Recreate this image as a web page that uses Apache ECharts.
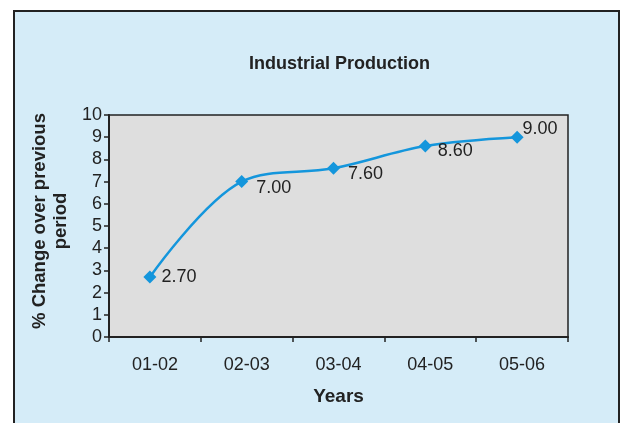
<!DOCTYPE html>
<html>
<head>
<meta charset="utf-8">
<script src="https://cdn.jsdelivr.net/npm/echarts@6/dist/echarts.min.js"></script>
<style>
html,body{margin:0;padding:0;background:#fff;}
#c{width:621px;height:423px;}
</style>
</head>
<body>
<div id="c"></div>
<script>
const categories = ['01-02', '02-03', '03-04', '04-05', '05-06'];
const values = [2.70, 7.00, 7.60, 8.60, 9.00];
const yTicks = [0, 10, 1];
const labelOffsets = [[0, 0], [3, 6], [3, 6], [1, 5], [-6, -8]];

const chart = echarts.init(document.getElementById('c'), null, {renderer: 'canvas'});
const font = 'Arial, "Liberation Sans", sans-serif';
const txt = '#222';
chart.setOption({
  animation: false,
  backgroundColor: '#ffffff',
  graphic: [{
    type: 'rect', z: -10,
    shape: {x: 14, y: 11, width: 605, height: 420},
    style: {fill: '#D5ECF8', stroke: '#222', lineWidth: 2}
  }, {
    type: 'text', left: 249, top: 55,
    style: {text: 'Industrial Production', x: 0, y: 0,
            font: 'bold 18px Arial, "Liberation Sans", sans-serif', fill: txt}
  }],
  grid: [
    {left: 109, right: 53, top: 115, bottom: 86,
     show: true, backgroundColor: '#DEDEDE', borderColor: '#222', borderWidth: 1.5},
    {left: 104, right: 58, top: 115, bottom: 86, show: false}
  ],
  xAxis: [{
    gridIndex: 0, type: 'category', data: categories, boundaryGap: true,
    name: 'Years', nameLocation: 'middle', nameGap: 50,
    nameTextStyle: {fontFamily: font, fontSize: 19, fontWeight: 'bold', color: txt},
    axisLine: {lineStyle: {color: '#222', width: 2}},
    axisTick: {show: true, length: 5, lineStyle: {color: '#222', width: 1.5}},
    axisLabel: {fontFamily: font, fontSize: 18, color: txt, margin: 19},
    splitLine: {show: false}
  }, {
    gridIndex: 1, type: 'category', data: categories, boundaryGap: true,
    show: false
  }],
  yAxis: [{
    gridIndex: 0, type: 'value', min: yTicks[0], max: yTicks[1], interval: yTicks[2],
    name: '% Change over previous\nperiod', nameLocation: 'middle', nameGap: 37,
    nameTextStyle: {fontFamily: font, fontSize: 18.5, fontWeight: 'bold', color: txt,
                    lineHeight: 21, padding: [0, 0, 0, 10]},
    axisLine: {show: true, lineStyle: {color: '#222', width: 2}},
    axisTick: {show: true, length: 5, lineStyle: {color: '#222', width: 1.5}},
    axisLabel: {fontFamily: font, fontSize: 18, color: txt, margin: 7},
    splitLine: {show: false}
  }, {
    gridIndex: 1, type: 'value', min: yTicks[0], max: yTicks[1], interval: yTicks[2],
    show: false, splitLine: {show: false}
  }],
  series: [{
    type: 'line', smooth: 0.35, xAxisIndex: 1, yAxisIndex: 1,
    data: values.map((v, i) => ({value: v, label: {offset: labelOffsets[i]}})),
    symbol: 'diamond', symbolSize: 13,
    itemStyle: {color: '#1496DC'},
    lineStyle: {color: '#1496DC', width: 2.5},
    label: {
      show: true, position: 'right', distance: 5,
      formatter: p => p.value.toFixed(2),
      fontFamily: font, fontSize: 18, color: txt
    }
  }]
});
</script>
</body>
</html>
